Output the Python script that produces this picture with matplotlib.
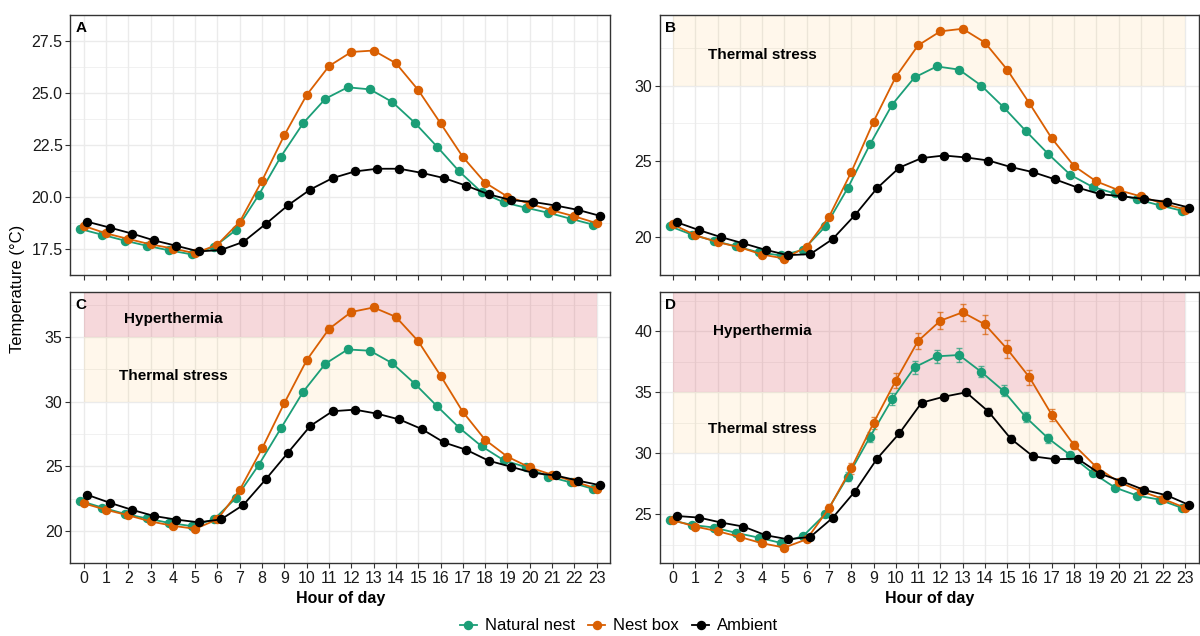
import matplotlib
matplotlib.use("Agg")
import matplotlib.pyplot as plt
from matplotlib.lines import Line2D
import numpy as np

plt.rcParams['font.family'] = ['Liberation Sans', 'DejaVu Sans']

hours = list(range(24))
series_names = ["Natural nest", "Nest box", "Ambient"]
colors = ["#1B9E77", "#D95F02", "#000000"]

# panel A
a_natural = [18.45, 18.17, 17.89, 17.64, 17.42, 17.23, 17.58, 18.41, 20.07, 21.93, 23.54, 24.72,
             25.27, 25.17, 24.56, 23.57, 22.42, 21.22, 20.22, 19.73, 19.47, 19.23, 18.94, 18.66]
a_box = [18.60, 18.24, 17.97, 17.71, 17.51, 17.28, 17.70, 18.80, 20.78, 22.97, 24.90, 26.29,
         26.97, 27.04, 26.43, 25.14, 23.54, 21.92, 20.68, 20.01, 19.66, 19.35, 19.06, 18.73]
a_ambient = [18.80, 18.52, 18.23, 17.90, 17.64, 17.37, 17.44, 17.83, 18.69, 19.59, 20.35, 20.90,
             21.22, 21.35, 21.35, 21.15, 20.90, 20.53, 20.12, 19.84, 19.75, 19.58, 19.37, 19.08]
a_err = [0.05, 0.05, 0.05, 0.05, 0.05, 0.05, 0.05, 0.05, 0.06, 0.07, 0.08, 0.08,
         0.08, 0.08, 0.08, 0.08, 0.07, 0.06, 0.05, 0.05, 0.05, 0.05, 0.05, 0.05]

# panel B
b_natural = [20.71, 20.15, 19.74, 19.37, 18.98, 18.77, 19.14, 20.69, 23.22, 26.11, 28.75, 30.54,
             31.27, 31.06, 30.00, 28.57, 27.00, 25.49, 24.10, 23.30, 22.87, 22.48, 22.09, 21.73]
b_box = [20.82, 20.11, 19.65, 19.31, 18.83, 18.57, 19.35, 21.32, 24.28, 27.62, 30.58, 32.66,
         33.59, 33.76, 32.85, 31.06, 28.83, 26.52, 24.69, 23.67, 23.09, 22.68, 22.20, 21.81]
b_ambient = [20.97, 20.45, 19.98, 19.57, 19.14, 18.79, 18.86, 19.85, 21.43, 23.22, 24.58, 25.21,
             25.38, 25.25, 25.05, 24.62, 24.28, 23.80, 23.26, 22.83, 22.68, 22.51, 22.31, 21.94]
b_err = [0.08, 0.08, 0.08, 0.08, 0.08, 0.08, 0.08, 0.10, 0.12, 0.14, 0.15, 0.16,
         0.16, 0.16, 0.16, 0.15, 0.14, 0.12, 0.10, 0.08, 0.08, 0.08, 0.08, 0.08]

# panel C
c_natural = [22.33, 21.81, 21.33, 20.97, 20.62, 20.38, 20.90, 22.57, 25.09, 27.94, 30.77, 32.95,
             34.05, 33.95, 32.98, 31.41, 29.67, 27.99, 26.56, 25.47, 24.94, 24.21, 23.76, 23.26]
c_box = [22.14, 21.64, 21.21, 20.74, 20.40, 20.17, 20.90, 23.19, 26.39, 29.91, 33.22, 35.64,
         36.95, 37.30, 36.57, 34.69, 32.03, 29.22, 27.06, 25.75, 24.92, 24.35, 23.83, 23.28]
c_ambient = [22.80, 22.19, 21.64, 21.16, 20.88, 20.67, 20.90, 22.02, 23.99, 26.06, 28.13, 29.27,
             29.39, 29.08, 28.63, 27.89, 26.85, 26.28, 25.44, 24.97, 24.49, 24.30, 23.90, 23.54]
c_natural_err = [0.08, 0.08, 0.08, 0.08, 0.08, 0.08, 0.10, 0.15, 0.20, 0.22, 0.25, 0.25,
                 0.25, 0.25, 0.22, 0.20, 0.20, 0.18, 0.15, 0.12, 0.10, 0.10, 0.08, 0.08]
c_box_err = [0.08, 0.08, 0.08, 0.08, 0.08, 0.08, 0.10, 0.15, 0.20, 0.25, 0.28, 0.30,
             0.30, 0.30, 0.28, 0.25, 0.22, 0.20, 0.15, 0.12, 0.10, 0.10, 0.08, 0.08]
c_ambient_err = [0.06, 0.06, 0.06, 0.06, 0.06, 0.06, 0.06, 0.08, 0.10, 0.10, 0.12, 0.12,
                 0.12, 0.12, 0.12, 0.12, 0.10, 0.10, 0.08, 0.08, 0.06, 0.06, 0.06, 0.06]

# panel D
d_natural = [24.54, 24.13, 23.91, 23.47, 23.09, 22.65, 23.22, 25.03, 28.09, 31.34, 34.45, 37.05,
             37.95, 38.06, 36.67, 35.11, 32.95, 31.23, 29.84, 28.39, 27.19, 26.53, 26.20, 25.52]
d_box = [24.51, 23.99, 23.61, 23.14, 22.62, 22.27, 22.95, 25.49, 28.77, 32.49, 35.96, 39.21,
         40.87, 41.56, 40.57, 38.55, 36.23, 33.17, 30.68, 28.88, 27.65, 26.89, 26.26, 25.52]
d_ambient = [24.86, 24.73, 24.32, 23.99, 23.28, 22.95, 23.14, 24.70, 26.86, 29.56, 31.64, 34.15,
             34.64, 35.00, 33.42, 31.20, 29.75, 29.51, 29.56, 28.33, 27.70, 26.99, 26.56, 25.77]
d_natural_err = [0.10, 0.10, 0.10, 0.10, 0.10, 0.10, 0.15, 0.25, 0.35, 0.40, 0.50, 0.55,
                 0.55, 0.60, 0.45, 0.45, 0.40, 0.35, 0.30, 0.25, 0.20, 0.20, 0.15, 0.10]
d_box_err = [0.10, 0.10, 0.10, 0.10, 0.15, 0.15, 0.15, 0.35, 0.45, 0.50, 0.60, 0.65,
             0.70, 0.70, 0.75, 0.70, 0.60, 0.50, 0.35, 0.25, 0.20, 0.15, 0.15, 0.10]
d_ambient_err = [0.10, 0.10, 0.10, 0.10, 0.15, 0.15, 0.15, 0.20, 0.20, 0.20, 0.20, 0.20,
                 0.20, 0.25, 0.30, 0.30, 0.30, 0.20, 0.20, 0.20, 0.15, 0.15, 0.15, 0.15]

panels = [
    ("A", [a_natural, a_box, a_ambient], [a_err, a_err, a_err], (16.70, 27.64),
     [17.5, 20.0, 22.5, 25.0, 27.5], False, None, None),
    ("B", [b_natural, b_box, b_ambient], [b_err, b_err, b_err], (17.73, 34.67),
     [20, 25, 30], True, 32.0, None),
    ("C", [c_natural, c_box, c_ambient], [c_natural_err, c_box_err, c_ambient_err], (19.14, 38.52),
     [20, 25, 30, 35], True, 32.0, 36.4),
    ("D", [d_natural, d_box, d_ambient], [d_natural_err, d_box_err, d_ambient_err], (20.98, 43.25),
     [25, 30, 35, 40], True, 32.0, 40.0),
]

W, H = 1200, 636
fig = plt.figure(figsize=(W / 100, H / 100), dpi=100)
boxes = [(70.3, 15, 610, 274.7), (659.7, 15, 1198.7, 274.7),
         (70.3, 291.7, 610, 563.3), (659.7, 291.7, 1198.7, 563.3)]
offsets = [-0.16, 0.0, 0.16]

for i, (letter, ys, errs, ylim, yticks, bands, ts_y, hy_y) in enumerate(panels):
    x0, y0, x1, y1 = boxes[i]
    ax = fig.add_axes([x0 / W, 1 - y1 / H, (x1 - x0) / W, (y1 - y0) / H])
    ax.set_xlim(-0.6, 23.6)
    ax.set_ylim(*ylim)
    ax.set_facecolor("white")

    # grid
    ax.set_yticks(yticks)
    minor = [(yticks[k] + yticks[k + 1]) / 2 for k in range(len(yticks) - 1)]
    step = yticks[1] - yticks[0]
    minor = [yticks[0] - step / 2] + minor + [yticks[-1] + step / 2]
    ax.set_yticks(minor, minor=True)
    ax.set_xticks(hours)
    ax.grid(True, which="major", color="#EBEBEB", linewidth=1.0, zorder=0)
    ax.grid(True, which="minor", axis="y", color="#EBEBEB", linewidth=0.5, zorder=0)
    ax.set_axisbelow(True)
    ax.tick_params(axis="y", which="minor", length=0)

    if bands:
        ax.fill_between([0, 23], 30, 35, color="orange", alpha=0.08, linewidth=0, zorder=1)
        if hy_y is not None:
            ax.fill_between([0, 23], 35, 60, color="#D6404E", alpha=0.2, linewidth=0, zorder=1)
            ax.text(4, hy_y, "Hyperthermia", ha="center", va="center",
                    fontsize=11, fontweight="bold", zorder=5)
        ax.text(4, ts_y, "Thermal stress", ha="center", va="center",
                fontsize=11, fontweight="bold", zorder=5)

    for k in range(3):
        xs = np.array(hours) + offsets[k]
        ax.errorbar(xs, ys[k], yerr=errs[k], fmt="none", ecolor=colors[k], elinewidth=1.0,
                    capsize=2.2, alpha=0.7, zorder=3)
        ax.plot(xs, ys[k], color=colors[k], linewidth=1.3, marker="o", markersize=5.8, zorder=4)

    ax.text(0.01, 0.975, letter, transform=ax.transAxes, ha="left", va="top",
            fontsize=11, fontweight="bold")

    for sp in ax.spines.values():
        sp.set_color("#333333")
        sp.set_linewidth(1.0)
    ax.tick_params(axis="both", which="major", color="#333333", length=3.5, width=0.8,
                   labelsize=11.5, labelcolor="#1A1A1A", pad=2)
    if i < 2:
        ax.set_xticklabels([])
    else:
        ax.set_xticklabels([str(h) for h in hours])
        ax.set_xlabel("Hour of day", fontsize=11.5, fontweight="bold", labelpad=4)
    if letter == "A":
        ax.set_yticklabels(["%.1f" % v for v in yticks])
    else:
        ax.set_yticklabels([str(v) for v in yticks])

fig.text(18 / W, 1 - 289 / H, "Temperature (\u00b0C)", rotation=90, ha="center", va="center",
         fontsize=12)

handles = [Line2D([0], [0], color=c, linewidth=1.3, marker="o", markersize=5.8) for c in colors]
fig.legend(handles, series_names, loc="center", bbox_to_anchor=(0.516, 1 - 626 / H), ncol=3,
           frameon=False, fontsize=12, handlelength=1.0, handletextpad=0.5, columnspacing=0.8)

fig.savefig("out.png", dpi=100)
